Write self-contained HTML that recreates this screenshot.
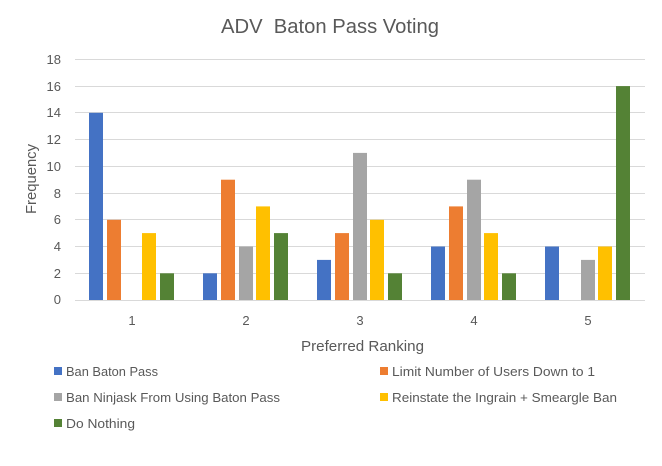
<!DOCTYPE html>
<html><head><meta charset="utf-8"><style>
body{margin:0;background:#fff}
svg{display:block;font-family:"Liberation Sans",sans-serif}
</style></head><body>
<svg width="662" height="466" viewBox="0 0 662 466">
<rect width="662" height="466" fill="#fff"/>
<text x="221" y="33" font-size="20" fill="#595959" textLength="218" lengthAdjust="spacingAndGlyphs" xml:space="preserve">ADV  Baton Pass Voting</text>
<g stroke="#d9d9d9" stroke-width="1">
<line x1="75" x2="645" y1="59.5" y2="59.5"/><line x1="75" x2="645" y1="86.5" y2="86.5"/>
<line x1="75" x2="645" y1="112.5" y2="112.5"/><line x1="75" x2="645" y1="139.5" y2="139.5"/>
<line x1="75" x2="645" y1="166.5" y2="166.5"/><line x1="75" x2="645" y1="193.5" y2="193.5"/>
<line x1="75" x2="645" y1="219.5" y2="219.5"/><line x1="75" x2="645" y1="246.5" y2="246.5"/>
<line x1="75" x2="645" y1="273.5" y2="273.5"/><line x1="75" x2="645" y1="300.5" y2="300.5"/>
</g>
<g font-size="13" fill="#595959" text-anchor="end">
<text x="61" y="64">18</text><text x="61" y="91">16</text><text x="61" y="117">14</text>
<text x="61" y="144">12</text><text x="61" y="171">10</text><text x="61" y="198">8</text>
<text x="61" y="224">6</text><text x="61" y="251">4</text><text x="61" y="278">2</text><text x="61" y="304">0</text>
</g>
<g font-size="13" fill="#595959" text-anchor="middle">
<text x="132" y="325">1</text>
<text x="246" y="325">2</text><text x="360" y="325">3</text><text x="474" y="325">4</text><text x="588" y="325">5</text>
</g>
<text x="301" y="351" font-size="15" fill="#595959" textLength="123" lengthAdjust="spacingAndGlyphs">Preferred Ranking</text>
<text transform="translate(36,214) rotate(-90)" font-size="15" fill="#595959" textLength="70" lengthAdjust="spacingAndGlyphs">Frequency</text>
<g>
<rect x="89" y="112.8" width="14" height="187.2" fill="#4472c4"/>
<rect x="107" y="219.8" width="14" height="80.2" fill="#ed7d31"/>
<rect x="142" y="233.1" width="14" height="66.9" fill="#ffc000"/>
<rect x="160" y="273.3" width="14" height="26.7" fill="#548235"/>

<rect x="203" y="273.3" width="14" height="26.7" fill="#4472c4"/>
<rect x="221" y="179.7" width="14" height="120.3" fill="#ed7d31"/>
<rect x="239" y="246.5" width="14" height="53.5" fill="#a5a5a5"/>
<rect x="256" y="206.4" width="14" height="93.6" fill="#ffc000"/>
<rect x="274" y="233.1" width="14" height="66.9" fill="#548235"/>

<rect x="317" y="259.9" width="14" height="40.1" fill="#4472c4"/>
<rect x="335" y="233.1" width="14" height="66.9" fill="#ed7d31"/>
<rect x="353" y="152.9" width="14" height="147.1" fill="#a5a5a5"/>
<rect x="370" y="219.8" width="14" height="80.2" fill="#ffc000"/>
<rect x="388" y="273.3" width="14" height="26.7" fill="#548235"/>

<rect x="431" y="246.5" width="14" height="53.5" fill="#4472c4"/>
<rect x="449" y="206.4" width="14" height="93.6" fill="#ed7d31"/>
<rect x="467" y="179.7" width="14" height="120.3" fill="#a5a5a5"/>
<rect x="484" y="233.1" width="14" height="66.9" fill="#ffc000"/>
<rect x="502" y="273.3" width="14" height="26.7" fill="#548235"/>

<rect x="545" y="246.5" width="14" height="53.5" fill="#4472c4"/>
<rect x="581" y="259.9" width="14" height="40.1" fill="#a5a5a5"/>
<rect x="598" y="246.5" width="14" height="53.5" fill="#ffc000"/>
<rect x="616" y="86.1" width="14" height="213.9" fill="#548235"/>
</g>
<line x1="75" x2="645" y1="300.5" y2="300.5" stroke="#d9d9d9"/>
<g font-size="13" fill="#595959">
<rect x="54" y="367" width="8" height="8" fill="#4472c4"/><text x="66" y="376" textLength="92" lengthAdjust="spacingAndGlyphs">Ban Baton Pass</text>
<rect x="380" y="367" width="8" height="8" fill="#ed7d31"/><text x="392" y="376" textLength="203" lengthAdjust="spacingAndGlyphs">Limit Number of Users Down to 1</text>
<rect x="54" y="393" width="8" height="8" fill="#a5a5a5"/><text x="66" y="402" textLength="214" lengthAdjust="spacingAndGlyphs">Ban Ninjask From Using Baton Pass</text>
<rect x="380" y="393" width="8" height="8" fill="#ffc000"/><text x="392" y="402" textLength="225" lengthAdjust="spacingAndGlyphs">Reinstate the Ingrain + Smeargle Ban</text>
<rect x="54" y="419" width="8" height="8" fill="#548235"/><text x="66" y="428" textLength="69" lengthAdjust="spacingAndGlyphs">Do Nothing</text>
</g>
</svg>
</body></html>
